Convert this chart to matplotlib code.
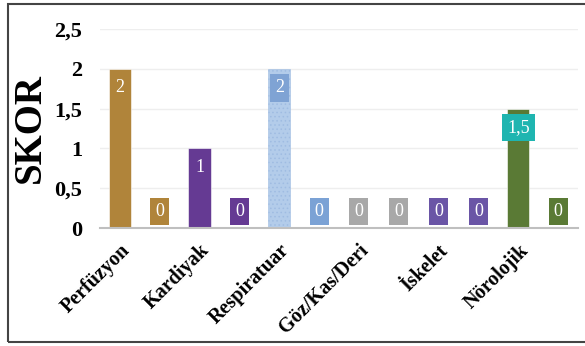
import matplotlib
matplotlib.use('Agg')
import matplotlib.pyplot as plt
from matplotlib.patches import Rectangle

# data (12 bars, only every other slot has a category label)
categories = ['Perfüzyon', '', 'Kardiyak', '', 'Respiratuar', '', 'Göz/Kas/Deri', '', 'İskelet', '', 'Nörolojik', '']
scores = [2, 0, 1, 0, 2, 0, 0, 0, 0, 0, 1.5, 0]
value_text = ['2', '0', '1', '0', '2', '0', '0', '0', '0', '0', '1,5', '0']
y_ticks = [0, 0.5, 1, 1.5, 2, 2.5]
y_tick_text = ['0', '0,5', '1', '1,5', '2', '2,5']

bar_colors = ['#B0843A', '#B0843A', '#653A93', '#653A93', '#B3CCEA', '#7BA2D5',
              '#A8A8A8', '#A8A8A8', '#6A55A6', '#6A55A6', '#5A7A35', '#5A7A35']
label_box_colors = ['#B0843A', '#B0843A', '#653A93', '#653A93', '#7FA3D4', '#7BA2D5',
                    '#A8A8A8', '#A8A8A8', '#6A55A6', '#6A55A6', '#1FB5B0', '#5A7A35']

plt.rcParams['font.family'] = ['Liberation Serif', 'DejaVu Serif']
plt.rcParams['hatch.linewidth'] = 0.6

fig = plt.figure(figsize=(5.85, 3.46), dpi=100)
ax = fig.add_axes([0.171, 0.341, 0.817, 0.575])

x = list(range(len(scores)))
bars = ax.bar(x, scores, width=0.56, color=bar_colors, edgecolor='white', linewidth=0.4, zorder=3)
# respiratuar bar has a dotted fill
bars[4].set_hatch('....')
bars[4].set_edgecolor('#9FBCE2')

# value labels in coloured boxes
for i, v in enumerate(scores):
    ypos = max(v - 0.24, 0.21)
    ax.text(i, ypos, value_text[i], ha='center', va='center', color='white', fontsize=13, zorder=5,
            bbox=dict(boxstyle='square,pad=0.28', facecolor=label_box_colors[i], edgecolor='none'))

ax.set_xlim(-0.5, len(scores) - 0.5)
ax.set_ylim(0, 2.5)
ax.set_yticks(y_ticks)
ax.set_yticklabels(y_tick_text, fontsize=16, fontweight='bold')
ax.set_xticks(x)
ax.set_xticklabels(categories, rotation=45, ha='right', rotation_mode='anchor',
                   fontsize=14.5, fontweight='bold')
ax.tick_params(axis='y', length=0, pad=13)
ax.tick_params(axis='x', length=0, pad=9)
ax.grid(axis='y', color='#EEEEEE', linewidth=1, zorder=0)
for s in ['top', 'right', 'left']:
    ax.spines[s].set_visible(False)
ax.spines['bottom'].set_color('#BFBFBF')
ax.spines['bottom'].set_linewidth(1.5)
ax.spines['bottom'].set_zorder(4)

ax.set_ylabel('SKOR', fontsize=28, fontweight='bold', labelpad=4)

# outer frame
fig.patches.append(Rectangle((8 / 585, 4 / 346), 1.0, 1 - 8 / 346, transform=fig.transFigure,
                             fill=False, edgecolor='#444444', linewidth=1.5))

plt.savefig('out.png', dpi=100)
